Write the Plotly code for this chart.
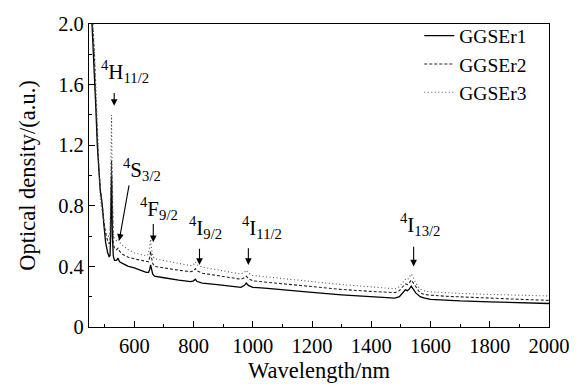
import plotly.graph_objects as go

wavelength = [450, 455, 460, 465, 470, 475, 480, 485, 488, 492, 497, 503, 510, 515, 518, 520, 522, 523, 524, 526, 529, 533, 540, 545, 550, 560, 580, 600, 620, 640, 648, 652, 655, 658, 662, 668, 680, 700, 750, 790, 800, 806, 812, 830, 880, 930, 960, 972, 978, 985, 1000, 1050, 1100, 1200, 1300, 1400, 1450, 1480, 1495, 1505, 1515, 1522, 1528, 1535, 1542, 1550, 1565, 1580, 1600, 1650, 1700, 1800, 1900, 2000]

ggser1 = [2.3, 2.1, 1.95, 1.72, 1.45, 1.2, 1.02, 0.9, 0.86, 0.8, 0.68, 0.56, 0.49, 0.465, 0.47, 0.6, 0.9, 1.0, 0.9, 0.6, 0.47, 0.44, 0.44, 0.455, 0.43, 0.42, 0.40, 0.39, 0.375, 0.36, 0.36, 0.38, 0.41, 0.39, 0.35, 0.335, 0.33, 0.325, 0.31, 0.30, 0.305, 0.315, 0.30, 0.29, 0.28, 0.27, 0.262, 0.275, 0.29, 0.275, 0.262, 0.255, 0.245, 0.228, 0.212, 0.198, 0.192, 0.19, 0.2, 0.225, 0.245, 0.24, 0.25, 0.27, 0.25, 0.225, 0.2, 0.19, 0.183, 0.177, 0.172, 0.166, 0.16, 0.155]

ggser2 = [2.3, 2.15, 2.0, 1.8, 1.5, 1.25, 1.05, 0.92, 0.88, 0.8, 0.7, 0.62, 0.57, 0.55, 0.56, 0.7, 0.95, 1.1, 0.95, 0.7, 0.55, 0.52, 0.51, 0.52, 0.5, 0.48, 0.46, 0.45, 0.44, 0.43, 0.43, 0.46, 0.50, 0.46, 0.42, 0.40, 0.395, 0.39, 0.375, 0.365, 0.37, 0.385, 0.37, 0.355, 0.34, 0.325, 0.315, 0.325, 0.335, 0.32, 0.305, 0.295, 0.285, 0.265, 0.248, 0.235, 0.228, 0.227, 0.24, 0.265, 0.285, 0.28, 0.29, 0.31, 0.29, 0.26, 0.225, 0.215, 0.21, 0.203, 0.198, 0.19, 0.183, 0.176]

ggser3 = [2.3, 2.15, 2.0, 1.85, 1.6, 1.3, 1.05, 0.85, 0.80, 0.75, 0.68, 0.63, 0.6, 0.6, 0.62, 0.85, 1.2, 1.4, 1.2, 0.85, 0.62, 0.58, 0.57, 0.58, 0.56, 0.54, 0.51, 0.49, 0.48, 0.47, 0.48, 0.53, 0.58, 0.52, 0.47, 0.45, 0.445, 0.44, 0.42, 0.405, 0.41, 0.43, 0.41, 0.395, 0.375, 0.36, 0.35, 0.36, 0.375, 0.355, 0.34, 0.33, 0.32, 0.30, 0.28, 0.265, 0.255, 0.252, 0.265, 0.29, 0.315, 0.31, 0.325, 0.35, 0.325, 0.29, 0.25, 0.238, 0.232, 0.226, 0.222, 0.215, 0.21, 0.205]

series_names = ["GGSEr1", "GGSEr2", "GGSEr3"]

# transition labels: text, text position (x, y), arrow tail (x, y), arrow head (x, y)
labels = ["<sup>4</sup>H<sub>11/2</sub>", "<sup>4</sup>S<sub>3/2</sub>", "<sup>4</sup>F<sub>9/2</sub>",
          "<sup>4</sup>I<sub>9/2</sub>", "<sup>4</sup>I<sub>11/2</sub>", "<sup>4</sup>I<sub>13/2</sub>"]
label_x = [570, 627, 684, 840, 1032, 1566]
label_y = [1.685, 1.04, 0.785, 0.655, 0.655, 0.675]
tail_x = [532, 583, 664, 820, 985, 1543]
tail_y = [1.555, 0.945, 0.69, 0.527, 0.53, 0.54]
head_x = [532, 549, 664, 820, 985, 1543]
head_y = [1.46, 0.57, 0.56, 0.41, 0.41, 0.40]

FONT = "Liberation Serif"

fig = go.Figure()
styles = [dict(color="black", width=1.3, dash="solid"),
          dict(color="#222222", width=1.1, dash="3px,2px"),
          dict(color="#555555", width=1.1, dash="1px,2.5px")]
for name, ys, st in zip(series_names, [ggser1, ggser2, ggser3], styles):
    fig.add_trace(go.Scatter(x=wavelength, y=ys, mode="lines", name=name, line=st))

annotations = []
for t, lx, ly in zip(labels, label_x, label_y):
    annotations.append(dict(x=lx, y=ly, xref="x", yref="y", text=t, showarrow=False,
                            font=dict(family=FONT, size=21, color="black")))
for tx, ty, hx, hy in zip(tail_x, tail_y, head_x, head_y):
    annotations.append(dict(x=hx, y=hy, xref="x", yref="y", ax=tx, ay=ty, axref="x", ayref="y",
                            text="", showarrow=True, arrowhead=2, arrowsize=1.2, arrowwidth=1.1,
                            arrowcolor="black"))

axis_common = dict(showline=True, linecolor="black", linewidth=1.3, mirror=True, ticks="inside",
                   ticklen=6, tickwidth=1.2, tickcolor="black", showgrid=False, zeroline=False,
                   automargin=False, ticklabeloverflow="allow",
                   tickfont=dict(family=FONT, size=20.5, color="black"))

fig.update_layout(
    width=587, height=388,
    margin=dict(l=81, r=46, t=8, b=69),
    paper_bgcolor="white", plot_bgcolor="white",
    font=dict(family=FONT, color="black"),
    showlegend=True,
    legend=dict(x=0.718, y=1.025, xanchor="left", yanchor="top", bgcolor="rgba(0,0,0,0)",
                font=dict(family=FONT, size=19.5, color="black"), tracegroupgap=0),
    annotations=annotations,
)
fig.update_xaxes(range=[447, 2000], tickvals=[600, 800, 1000, 1200, 1400, 1600, 1800, 2000],
                 minor=dict(dtick=100, tick0=0, ticks="inside", ticklen=3, tickcolor="black"),
                 title=dict(text="Wavelength/nm", font=dict(family=FONT, size=22.5, color="black"), standoff=6),
                 **axis_common)
fig.update_yaxes(range=[0, 2.0], tickvals=[0, 0.4, 0.8, 1.2, 1.6, 2.0],
                 ticktext=["0", "0.4", "0.8", "1.2", "1.6", "2.0"],
                 minor=dict(dtick=0.2, tick0=0, ticks="inside", ticklen=3, tickcolor="black"),
                 title=dict(text="Optical density/(a.u.)", font=dict(family=FONT, size=22.5, color="black"), standoff=16),
                 **axis_common)

fig.write_html("out.html")
